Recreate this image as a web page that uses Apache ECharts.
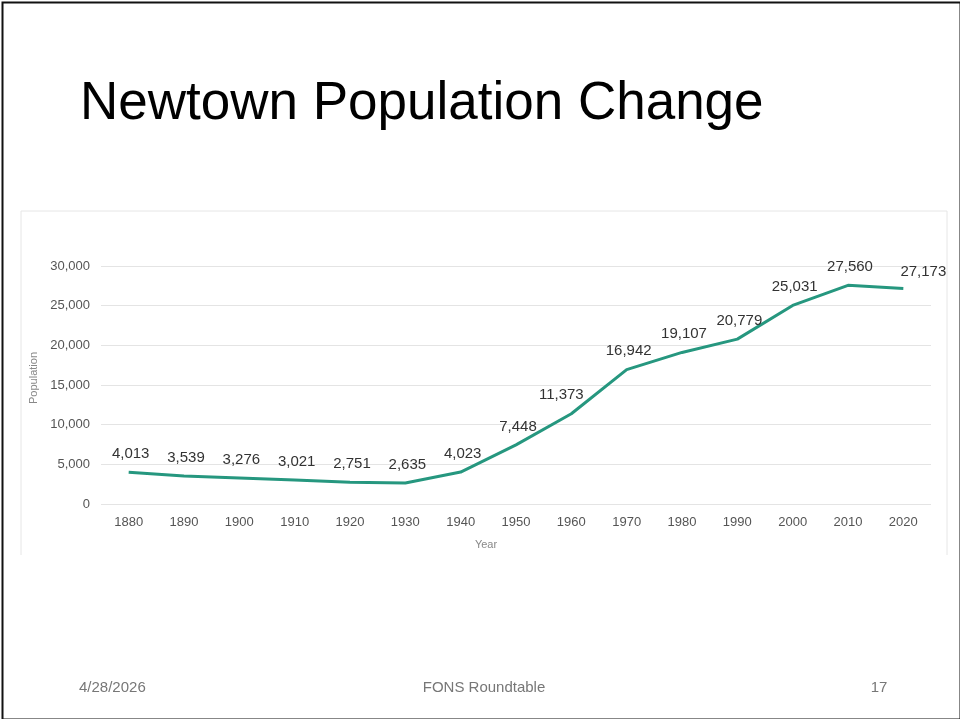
<!DOCTYPE html>
<html>
<head>
    <meta charset="utf-8">
    <script src="https://cdn.jsdelivr.net/npm/echarts@6/dist/echarts.min.js"></script>
    <style>
        html, body { margin: 0; padding: 0; background: #fff; }
        #container { width: 960px; height: 719px; }
    </style>
</head>
<body>
    <div id="container"></div>
    <script type="text/javascript">
        // census years and population
        var years = ['1880', '1890', '1900', '1910', '1920', '1930', '1940', '1950',
            '1960', '1970', '1980', '1990', '2000', '2010', '2020'];
        var population = [4013, 3539, 3276, 3021, 2751, 2635, 4023, 7448,
            11373, 16942, 19107, 20779, 25031, 27560, 27173];
        var yTicks = [0, 5000, 10000, 15000, 20000, 25000, 30000];

        var slideTitle = 'Newtown Population Change';
        var footerDate = '4/28/2026';
        var footerText = 'FONS Roundtable';
        var footerPage = '17';

        var lineColor = '#26977f';
        var font = '"Liberation Sans", Arial, sans-serif';
        var dom = document.getElementById('container');
        var myChart = echarts.init(dom);

        var option = {
            backgroundColor: '#ffffff',
            animation: false,
            graphic: [
                // slide border
                {
                    type: 'rect', left: 0, top: 0,
                    shape: { x: 1, y: 1, width: 958, height: 717 },
                    style: { fill: 'none', stroke: '#111', lineWidth: 2 }
                },
                // chart panel edges
                {
                    type: 'polyline',
                    shape: { points: [[21, 555], [21, 211], [947, 211], [947, 555]] },
                    style: { fill: 'none', stroke: '#e6e6e6', lineWidth: 1 }
                },
                {
                    type: 'text', x: 80, y: 104,
                    style: {
                        text: slideTitle, fill: '#000', verticalAlign: 'middle',
                        font: '53px ' + font
                    }
                },
                {
                    type: 'text', x: 79, y: 688,
                    style: { text: footerDate, fill: '#777', verticalAlign: 'middle', font: '15px ' + font }
                },
                {
                    type: 'text', x: 484, y: 688,
                    style: { text: footerText, fill: '#777', align: 'center', verticalAlign: 'middle', font: '15px ' + font }
                },
                {
                    type: 'text', x: 879, y: 688,
                    style: { text: footerPage, fill: '#777', align: 'center', verticalAlign: 'middle', font: '15px ' + font }
                }
            ],
            grid: {
                left: 101,
                right: 29,
                top: 266,
                bottom: 215
            },
            xAxis: {
                type: 'category',
                data: years,
                boundaryGap: true,
                name: 'Year',
                nameLocation: 'middle',
                nameGap: 35,
                nameTextStyle: { color: '#888', fontSize: 11, fontFamily: 'Liberation Sans', padding: [0, 60, 0, 0] },
                axisLine: { show: false },
                axisTick: { show: false },
                axisLabel: { color: '#555', fontSize: 13, margin: 12, fontFamily: 'Liberation Sans' }
            },
            yAxis: {
                type: 'value',
                min: 0,
                max: 30000,
                interval: 5000,
                name: 'Population',
                nameLocation: 'middle',
                nameGap: 57,
                nameTextStyle: { color: '#888', fontSize: 11, fontFamily: 'Liberation Sans', padding: [0, 0, 0, 14] },
                axisLabel: {
                    color: '#555', fontSize: 13, margin: 11, fontFamily: 'Liberation Sans',
                    formatter: function (v) {
                        return yTicks.indexOf(v) >= 0 ? v.toLocaleString('en-US') : '';
                    }
                },
                splitLine: { lineStyle: { color: '#e4e4e4', width: 1 } }
            },
            series: [{
                name: 'Population',
                type: 'line',
                data: population,
                symbol: 'circle',
                symbolSize: 2,
                showSymbol: true,
                lineStyle: { color: lineColor, width: 3 },
                itemStyle: { color: 'rgba(0,0,0,0)', borderWidth: 0 },
                // nudge a couple of labels like the original chart does
                labelLayout: function (params) {
                    var i = params.dataIndex;
                    if (i === population.length - 1) return { dx: 20, dy: 2, hideOverlap: false };
                    if (i === 8) return { dx: -10, hideOverlap: false };
                    return { dx: 2, hideOverlap: false };
                },
                label: {
                    show: true,
                    position: 'top',
                    distance: 10,
                    color: '#333',
                    fontSize: 15,
                    fontFamily: 'Liberation Sans',
                    formatter: function (p) {
                        return p.value.toLocaleString('en-US');
                    }
                }
            }]
        };
        myChart.setOption(option);
    </script>
</body>
</html>
